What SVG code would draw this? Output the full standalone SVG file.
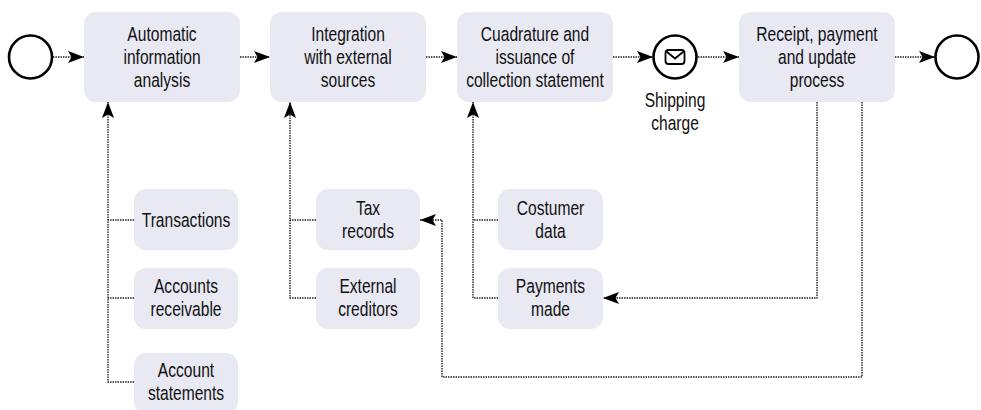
<svg xmlns="http://www.w3.org/2000/svg" width="981" height="410" viewBox="0 0 981 410">
  <style>
    .box { fill: #e9e9f4; stroke: none; }
    .evt { fill: #ffffff; stroke: #000000; stroke-width: 2.6; }
    .lbl { font-family: "Liberation Sans Narrow", "Liberation Sans", sans-serif; font-size: 19.5px; fill: #111111; text-anchor: middle;
           transform-box: fill-box; transform-origin: center; transform: scaleX(0.8); }
    .flow { fill: none; stroke: #111111; stroke-width: 1.3; stroke-dasharray: 1.4 1.1; }
    .arr { marker-end: url(#head); }
    .env { fill: none; stroke: #000000; stroke-width: 1.8; stroke-linejoin: round; stroke-linecap: round; }
  </style>
  <defs>
    <marker id="head" markerUnits="userSpaceOnUse" viewBox="0 0 16 12" markerWidth="16" markerHeight="12" refX="16" refY="6" orient="auto">
      <path d="M0,0 L16,6 L0,12 L3.5,6 z" fill="#000000"/>
    </marker>
  </defs>

  <!-- connectors -->
  <g id="connectors">
    <!-- main sequence -->
    <path class="flow arr" d="M53,57 H84"/>
    <path class="flow arr" d="M240,57 H270"/>
    <path class="flow arr" d="M426,57 H457"/>
    <path class="flow arr" d="M613,57 H653"/>
    <path class="flow arr" d="M698,57 H739"/>
    <path class="flow arr" d="M895,57 H935"/>
    <!-- data inputs: analysis -->
    <path class="flow arr" d="M134,382 H108 V102"/>
    <path class="flow" d="M134,220 H108"/>
    <path class="flow" d="M134,298 H108"/>
    <!-- data inputs: external sources -->
    <path class="flow arr" d="M316,298 H290 V102"/>
    <path class="flow" d="M316,220 H290"/>
    <!-- data inputs: collection statement -->
    <path class="flow arr" d="M498,298 H473 V102"/>
    <path class="flow" d="M498,220 H473"/>
    <!-- outputs of receipt process -->
    <path class="flow arr" d="M817,102 V298 H603"/>
    <path class="flow arr" d="M862,102 V377 H442 V220 H420"/>
  </g>

  <!-- events -->
  <g id="start">
    <circle class="evt" cx="30.5" cy="57" r="21.5"/>
  </g>
  <g id="shipping">
    <circle class="evt" cx="675" cy="57" r="21.5"/>
    <rect class="env" x="665.5" y="50" width="19" height="14" rx="3"/>
    <path class="env" d="M667,52 L675,58.5 L683,52"/>
    <text class="lbl" x="675" y="107">Shipping</text>
    <text class="lbl" x="675" y="130">charge</text>
  </g>
  <g id="end">
    <circle class="evt" cx="957" cy="57" r="21.5"/>
  </g>

  <!-- tasks -->
  <g id="analysis">
    <rect class="box" x="84" y="12" width="156" height="90" rx="12"/>
    <text class="lbl" x="162" y="41">Automatic</text>
    <text class="lbl" x="162" y="64">information</text>
    <text class="lbl" x="162" y="87">analysis</text>
  </g>
  <g id="integration">
    <rect class="box" x="270" y="12" width="156" height="90" rx="12"/>
    <text class="lbl" x="348" y="41">Integration</text>
    <text class="lbl" x="348" y="64">with external</text>
    <text class="lbl" x="348" y="87">sources</text>
  </g>
  <g id="cuadrature">
    <rect class="box" x="457" y="12" width="156" height="90" rx="12"/>
    <text class="lbl" x="535" y="41">Cuadrature and</text>
    <text class="lbl" x="535" y="64">issuance of</text>
    <text class="lbl" x="535" y="87">collection statement</text>
  </g>
  <g id="receipt">
    <rect class="box" x="739" y="12" width="156" height="90" rx="12"/>
    <text class="lbl" x="817" y="41">Receipt, payment</text>
    <text class="lbl" x="817" y="64">and update</text>
    <text class="lbl" x="817" y="87">process</text>
  </g>

  <!-- data sources -->
  <g id="transactions">
    <rect class="box" x="134" y="189" width="104" height="61" rx="12"/>
    <text class="lbl" x="186" y="227">Transactions</text>
  </g>
  <g id="receivable">
    <rect class="box" x="134" y="268" width="104" height="61" rx="12"/>
    <text class="lbl" x="186" y="293">Accounts</text>
    <text class="lbl" x="186" y="316">receivable</text>
  </g>
  <g id="statements">
    <rect class="box" x="134" y="353" width="104" height="61" rx="12"/>
    <text class="lbl" x="186" y="377">Account</text>
    <text class="lbl" x="186" y="400">statements</text>
  </g>
  <g id="tax">
    <rect class="box" x="316" y="189" width="104" height="61" rx="12"/>
    <text class="lbl" x="368" y="215">Tax</text>
    <text class="lbl" x="368" y="238">records</text>
  </g>
  <g id="creditors">
    <rect class="box" x="316" y="268" width="104" height="61" rx="12"/>
    <text class="lbl" x="368" y="293">External</text>
    <text class="lbl" x="368" y="316">creditors</text>
  </g>
  <g id="customer">
    <rect class="box" x="498" y="189" width="105" height="61" rx="12"/>
    <text class="lbl" x="550.5" y="215">Costumer</text>
    <text class="lbl" x="550.5" y="238">data</text>
  </g>
  <g id="payments">
    <rect class="box" x="498" y="268" width="105" height="61" rx="12"/>
    <text class="lbl" x="550.5" y="293">Payments</text>
    <text class="lbl" x="550.5" y="316">made</text>
  </g>
</svg>
